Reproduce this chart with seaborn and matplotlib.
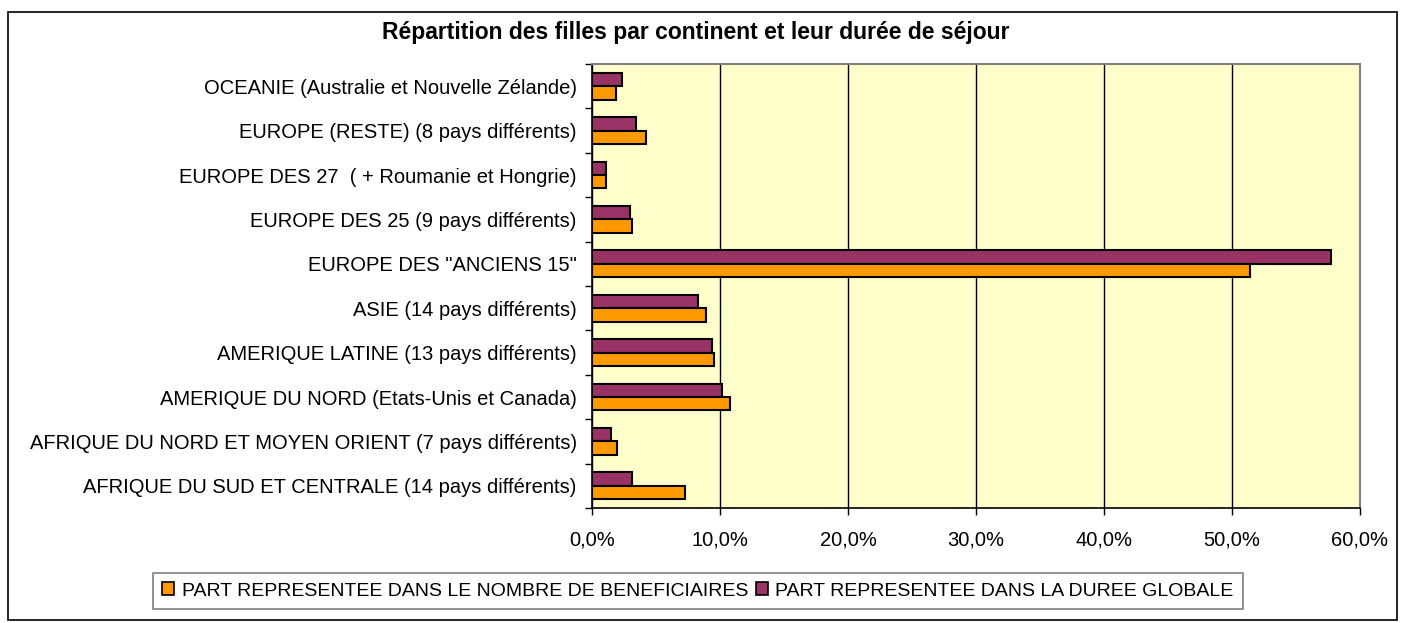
import pandas as pd
import matplotlib.pyplot as plt
import seaborn as sns
from matplotlib.patches import Rectangle, Patch
from matplotlib.ticker import FuncFormatter, MultipleLocator

plt.rcParams['font.family'] = ['Liberation Sans', 'DejaVu Sans']

# Data (percent)
continents = [
    'OCEANIE (Australie et Nouvelle Zélande)',
    'EUROPE (RESTE) (8 pays différents)',
    'EUROPE DES 27  ( + Roumanie et Hongrie)',
    'EUROPE DES 25 (9 pays différents)',
    'EUROPE DES "ANCIENS 15"',
    'ASIE (14 pays différents)',
    'AMERIQUE LATINE (13 pays différents)',
    'AMERIQUE DU NORD (Etats-Unis et Canada)',
    'AFRIQUE DU NORD ET MOYEN ORIENT (7 pays différents)',
    'AFRIQUE DU SUD ET CENTRALE (14 pays différents)',
]
part_nombre = [1.85, 4.19, 1.1, 3.1, 51.4, 8.94, 9.56, 10.81, 1.96, 7.28]
part_duree = [2.34, 3.41, 1.07, 2.95, 57.7, 8.31, 9.4, 10.19, 1.5, 3.11]

label_nombre = 'PART REPRESENTEE DANS LE NOMBRE DE BENEFICIAIRES'
label_duree = 'PART REPRESENTEE DANS LA DUREE GLOBALE'
orange = '#FF9900'
maroon = '#993366'

df = pd.DataFrame({
    'continent': continents * 2,
    'value': part_duree + part_nombre,
    'serie': [label_duree] * len(continents) + [label_nombre] * len(continents),
})

W, H = 1405, 623
fig = plt.figure(figsize=(W / 100, H / 100), dpi=100)
ax = fig.add_axes([592 / W, 1 - 508 / H, (1360 - 592) / W, (508 - 64) / H])
ax.set_facecolor('#FFFFCC')
ax.set_axisbelow(True)

sns.barplot(data=df, x='value', y='continent', hue='serie',
            hue_order=[label_duree, label_nombre], palette=[maroon, orange],
            saturation=1, order=continents, width=0.6, edgecolor='black',
            linewidth=1.5, legend=False, ax=ax)

ax.set_xlim(0, 60)
ax.set_ylim(len(continents) - 0.5, -0.5)
ax.xaxis.set_major_locator(MultipleLocator(10))
ax.xaxis.set_major_formatter(FuncFormatter(lambda v, p: f'{v:.1f}%'.replace('.', ',')))
ax.grid(axis='x', color='black', linewidth=1)
ax.grid(axis='y', visible=False)
ax.set_xlabel('')
ax.set_ylabel('')

ax.set_yticks([i + 0.5 for i in range(-1, len(continents))], minor=True)
ax.tick_params(axis='y', which='major', length=0, pad=11, labelsize=14.5)
ax.tick_params(axis='y', which='minor', length=5, width=1, direction='out')
ax.tick_params(axis='x', which='major', length=5, width=1, pad=11, labelsize=14.5)

for side in ['top', 'right']:
    ax.spines[side].set_color('#808080')
    ax.spines[side].set_linewidth(1.5)
for side in ['left', 'bottom']:
    ax.spines[side].set_color('black')
    ax.spines[side].set_linewidth(1.2)

fig.text(696 / W, 1 - 33 / H, 'Répartition des filles par continent et leur durée de séjour',
         ha='center', va='center', fontsize=16.5, fontweight='bold')

handles = [Patch(facecolor=orange, edgecolor='black', linewidth=1.2, label=label_nombre),
           Patch(facecolor=maroon, edgecolor='black', linewidth=1.2, label=label_duree)]
leg = fig.legend(handles=handles, loc='center', bbox_to_anchor=(698 / W, 1 - 591 / H),
                 ncol=2, fontsize=14, frameon=True, fancybox=False, edgecolor='#808080',
                 framealpha=1, handlelength=0.6, handleheight=0.6, handletextpad=0.4,
                 columnspacing=0.4, borderpad=0.5)
leg.get_frame().set_linewidth(1.2)

fig.patches.append(Rectangle((8 / W, 1 - 620 / H), (1397 - 8) / W, (620 - 12) / H,
                             transform=fig.transFigure, fill=False, edgecolor='black',
                             linewidth=1.2))

fig.savefig('out.png', dpi=100)
